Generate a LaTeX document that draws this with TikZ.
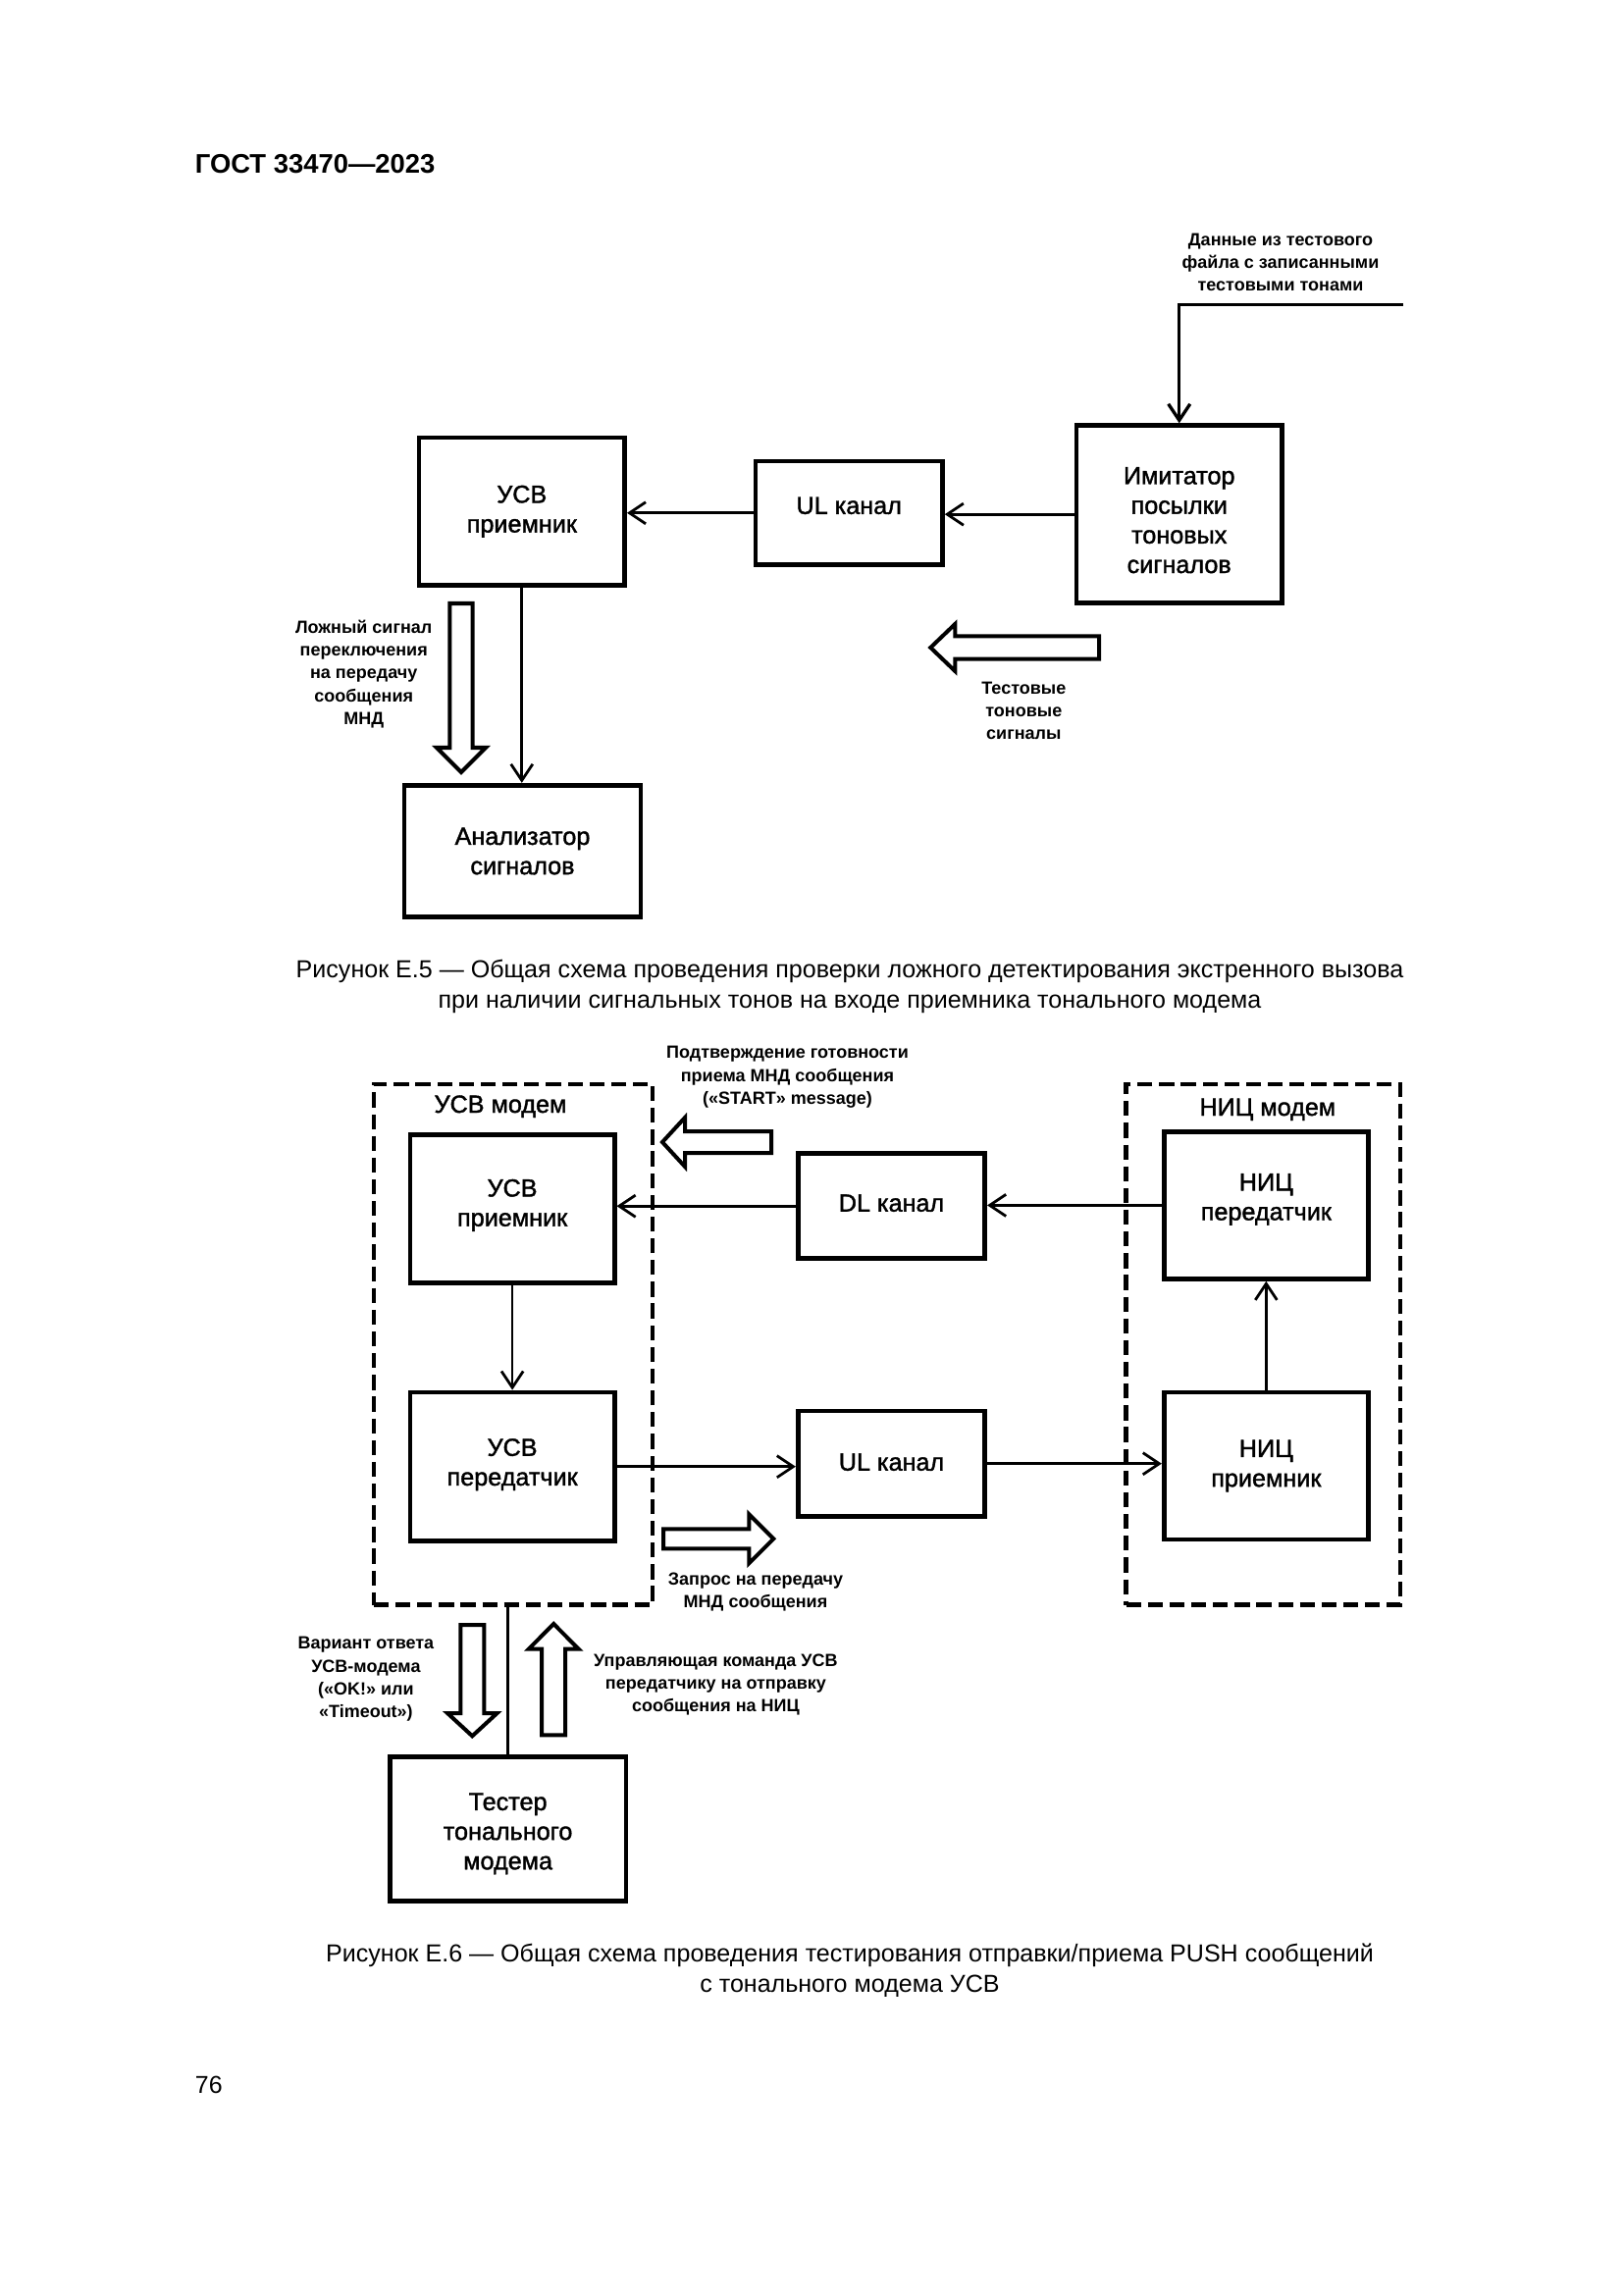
\documentclass[tikz,border=0pt]{standalone}
\usepackage{fontspec}
\setmainfont{Liberation Sans}
\newfontfamily\medfam[FakeBold=1.5]{Liberation Sans}
\usetikzlibrary{arrows.meta}
\newcommand\boxfnt{\medfam\fontsize{9.1}{10.9}\selectfont}
\newcommand\lblfnt{\bfseries\fontsize{6.5}{8.4}\selectfont}
\newcommand\capfnt{\fontsize{9.05}{11.3}\selectfont}
\begin{document}
\begin{tikzpicture}[x=0.0127cm,y=-0.0127cm,
  blk/.style={draw, line width=1.7pt, inner sep=0pt},
  btxt/.style={font=\boxfnt, align=center, inner sep=0pt},
  modem/.style={draw, dash pattern=on 5.5pt off 2.5pt, line width=1.6pt, inner sep=0pt},
  conn/.style={line width=1pt, -{Straight Barb[length=6pt,width=8pt]}},
  fat/.style={draw, line width=1.45pt, line join=miter},
  lbl/.style={font=\lblfnt, align=center, inner sep=0pt},
  capt/.style={font=\capfnt, align=center, inner sep=0pt},
  mlbl/.style={font=\boxfnt, inner sep=0pt, anchor=base}]
\useasboundingbox (0,0) rectangle (1654,2339);

% header
\node[anchor=base west, inner sep=0pt, font=\bfseries\fontsize{9.9}{11}\selectfont] (hdr) at (198.3,176.7) {ГОСТ 33470—2023};

% ---------- Figure E.5 ----------
\node[blk, minimum width=75.6pt, minimum height=65.4pt] (imit) at (1201.7,524.2) {};
\node[btxt] (imitT) at (1201.7,530.2) {Имитатор\\посылки\\тоновых\\сигналов};
\node[blk, minimum width=68.8pt, minimum height=38.1pt] (ul5) at (865.2,522.8) {};
\node[btxt] (ul5T) at (865.2,515.3) {UL канал};
\node[blk, minimum width=75.7pt, minimum height=54.3pt] (usv5) at (531.8,521.3) {};
\node[btxt] (usv5T) at (531.8,521.3) {УСВ\\приемник};
\node[blk, minimum width=87pt, minimum height=48.6pt] (anal) at (532.5,867.5) {};
\node[btxt] (analT) at (532.5,867.5) {Анализатор\\сигналов};

\node[lbl] (datalbl) at (1305,267.5) {Данные из тестового\\файла с записанными\\тестовыми тонами};
\node[lbl] (falselbl) at (370.7,687) {Ложный сигнал\\переключения\\на передачу\\сообщения\\МНД};
\node[lbl] (testlbl) at (1043.3,724.3) {Тестовые\\тоновые\\сигналы};

\coordinate (datain) at (1430,310.7);
\draw[conn, line width=1.2pt] (datain) -| (imit.north);
\draw[conn] (imit.west) -- (imit.west -| ul5.east);
\draw[conn] (ul5.west) -- (ul5.west -| usv5.east);
\draw[conn] (usv5.south) -- (usv5.south |- anal.north);

\draw[fat] (458.3,615) -- (481.7,615) -- (481.7,762) -- (495,762) -- (470,787) -- (445,762) -- (458.3,762) -- cycle;
\draw[fat] (1120,648.3) -- (1120,671.7) -- (973.3,671.7) -- (973.3,684) -- (948.3,660) -- (973.3,636) -- (973.3,648.3) -- cycle;

\node[capt] (cap5) at (866,1005.6) {Рисунок Е.5 — Общая схема проведения проверки ложного детектирования экстренного вызова\\при наличии сигнальных тонов на входе приемника тонального модема};

% ---------- Figure E.6 ----------
\node[modem, minimum width=102.6pt, minimum height=191.7pt] (usvmod) at (522.85,1370.15) {};
\node[modem, minimum width=101pt, minimum height=191.7pt] (nicmod) at (1287.35,1370.15) {};
\node[mlbl] (usvmodlbl) at (510,1134) {УСВ модем};
\node[mlbl] (nicmodlbl) at (1291.8,1137) {НИЦ модем};

\node[blk, minimum width=75.2pt, minimum height=54.7pt] (usvp) at (522.1,1232.1) {};
\node[btxt] (usvpT) at (522.1,1228.4) {УСВ\\приемник};
\node[blk, minimum width=75.2pt, minimum height=54.7pt] (usvt) at (522.1,1494.7) {};
\node[btxt] (usvtT) at (522.1,1492.7) {УСВ\\передатчик};
\node[blk, minimum width=68.8pt, minimum height=38.7pt] (dl) at (908.5,1229.2) {};
\node[btxt] (dlT) at (908.5,1226.2) {DL канал};
\node[blk, minimum width=68.8pt, minimum height=38.7pt] (ul6) at (908.5,1491.7) {};
\node[btxt] (ul6T) at (908.5,1490.2) {UL канал};
\node[blk, minimum width=75.2pt, minimum height=54.2pt] (nict) at (1290.3,1228.4) {};
\node[btxt] (nictT) at (1290.3,1222.4) {НИЦ\\передатчик};
\node[blk, minimum width=75.2pt, minimum height=54.2pt] (nicr) at (1290.3,1494) {};
\node[btxt] (nicrT) at (1290.3,1494) {НИЦ\\приемник};
\node[blk, minimum width=87pt, minimum height=53.2pt] (tester) at (517.6,1863.9) {};
\node[btxt] (testerT) at (517.6,1868.9) {Тестер\\тонального\\модема};

\node[lbl] (startlbl) at (802.5,1097.8) {Подтверждение готовности\\приема МНД сообщения\\(«START» message)};
\node[lbl] (reqlbl) at (770,1622.6) {Запрос на передачу\\МНД сообщения};
\node[lbl] (anslbl) at (372.9,1711.4) {Вариант ответа\\УСВ-модема\\(«OK!» или\\«Timeout»)};
\node[lbl] (cmdlbl) at (729.4,1716.8) {Управляющая команда УСВ\\передатчику на отправку\\сообщения на НИЦ};

\draw[conn] (nict.west) -- (nict.west -| dl.east);
\draw[conn] (dl.west) -- (dl.west -| usvp.east);
\draw[conn] (usvp.south) -- (usvp.south |- usvt.north);
\draw[conn] (usvt.east) -- (usvt.east -| ul6.west);
\draw[conn] (ul6.east) -- (ul6.east -| nicr.west);
\draw[conn] (nicr.north) -- (nicr.north |- nict.south);
\draw[line width=1pt] (tester.north |- usvmod.south) -- (tester.north);

\draw[fat] (786,1153) -- (786,1175) -- (698,1175) -- (698,1189) -- (675,1164) -- (698,1139) -- (698,1153) -- cycle;
\draw[fat] (676,1558.3) -- (763.3,1558.3) -- (763.3,1543.3) -- (788.3,1568.3) -- (763.3,1593.3) -- (763.3,1578.3) -- (676,1578.3) -- cycle;
\draw[fat] (469.3,1656) -- (493.3,1656) -- (493.3,1746) -- (506.6,1746) -- (481.3,1769.3) -- (456,1746) -- (469.3,1746) -- cycle;
\draw[fat] (552.2,1768.3) -- (576.2,1768.3) -- (576.2,1680.7) -- (589.7,1680.7) -- (564.2,1655) -- (538.7,1680.7) -- (552.2,1680.7) -- cycle;

\node[capt] (cap6) at (866,2008) {Рисунок Е.6 — Общая схема проведения тестирования отправки/приема PUSH сообщений\\с тонального модема УСВ};

\node[anchor=base west, inner sep=0pt, font=\fontsize{9}{11}\selectfont] (pgnum) at (198.4,2133) {76};
\end{tikzpicture}
\end{document}
